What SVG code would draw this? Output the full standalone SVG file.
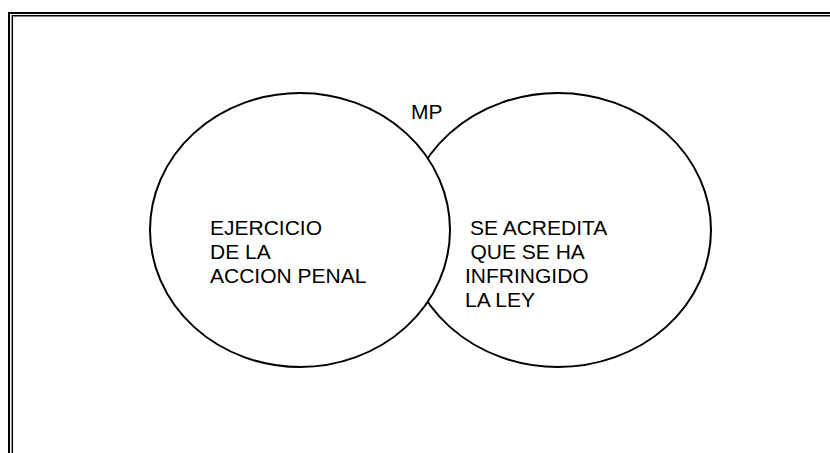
<svg xmlns="http://www.w3.org/2000/svg" width="830" height="453" viewBox="0 0 830 453">
<style>
.frame{fill:none;stroke:#000}
.circ{fill:#fff;stroke:#000;stroke-width:2}
.lbl{font-family:"Liberation Sans",Arial,sans-serif;font-size:21px;fill:#000}
</style>
<rect width="830" height="453" fill="#fff"/>
<g id="frame">
<path class="frame" stroke-width="2" d="M9 453 V13 H830"/>
<path class="frame" stroke-width="1.5" d="M12.3 453 V15.8 H830"/>
</g>
<g id="connectors"></g>
<g id="node-right">
<ellipse class="circ" cx="558" cy="230" rx="153" ry="137"/>
<text class="lbl" x="470" y="235">SE ACREDITA</text>
<text class="lbl" x="470.5" y="259">QUE SE HA</text>
<text class="lbl" x="465" y="283">INFRINGIDO</text>
<text class="lbl" x="465" y="307">LA LEY</text>
</g>
<g id="node-left">
<ellipse class="circ" cx="300" cy="230" rx="150" ry="137"/>
<text class="lbl" x="210" y="235">EJERCICIO</text>
<text class="lbl" x="210" y="259">DE LA</text>
<text class="lbl" x="210" y="283">ACCION PENAL</text>
</g>
<g id="node-mp">
<text class="lbl" x="411" y="119">MP</text>
</g>
</svg>
